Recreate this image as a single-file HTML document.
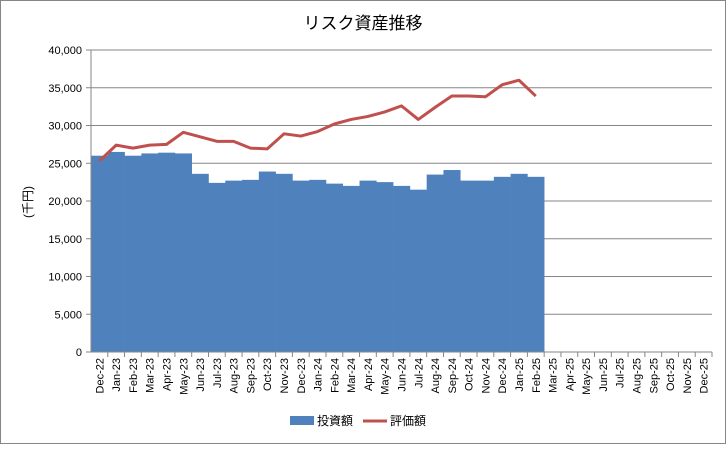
<!DOCTYPE html>
<html><head><meta charset="utf-8"><style>
body{margin:0;background:#fff;font-family:"Liberation Sans","Noto Sans CJK JP",sans-serif}
</style></head><body>
<svg width="726" height="444" xmlns="http://www.w3.org/2000/svg" style="font-family:'Liberation Sans','Noto Sans CJK JP',sans-serif">
<rect x="0.5" y="0.5" width="725" height="443" fill="#fff" stroke="#868686"/>
<text x="363" y="29" text-anchor="middle" font-size="17">リスク資産推移</text>
<g id="grid"></g><g id="bars"></g><g id="line"></g><g id="axes"></g>
<text transform="translate(32,202) rotate(-90)" text-anchor="middle" font-size="12">(千円)</text>
<g>
<rect x="290" y="416" width="24" height="9" fill="#4f81bd"/>
<text x="317" y="425" font-size="12">投資額</text>
<line x1="363" y1="421" x2="387" y2="421" stroke="#c0504d" stroke-width="3"/>
<text x="390" y="425" font-size="12">評価額</text>
</g>
</svg>
<script>
const categories=["Dec-22","Jan-23","Feb-23","Mar-23","Apr-23","May-23","Jun-23","Jul-23","Aug-23","Sep-23","Oct-23","Nov-23","Dec-23","Jan-24","Feb-24","Mar-24","Apr-24","May-24","Jun-24","Jul-24","Aug-24","Sep-24","Oct-24","Nov-24","Dec-24","Jan-25","Feb-25","Mar-25","Apr-25","May-25","Jun-25","Jul-25","Aug-25","Sep-25","Oct-25","Nov-25","Dec-25"];
const investment=[26000,26500,26000,26300,26400,26300,23600,22400,22700,22800,23900,23600,22700,22800,22300,22000,22700,22500,22000,21500,23500,24100,22700,22700,23200,23600,23200];
const valuation=[25300,27400,27000,27400,27500,29100,28500,27900,27900,27000,26900,28900,28600,29200,30200,30800,31200,31800,32600,30800,32400,33900,33900,33800,35400,36000,33900];
const yTicks=[0,5000,10000,15000,20000,25000,30000,35000,40000];
const NS="http://www.w3.org/2000/svg";
const X0=91,X1=712,Y0=352,Y1=50,YMAX=40000;
const bw=(X1-X0)/categories.length;
const y=v=>Y0-(v/YMAX)*(Y0-Y1);
const xc=i=>X0+bw*(i+0.5);
function mk(t,a,p){const e=document.createElementNS(NS,t);for(const k in a)e.setAttribute(k,a[k]);p.appendChild(e);return e;}
const G=document.getElementById('grid'),B=document.getElementById('bars'),L=document.getElementById('line'),A=document.getElementById('axes');
yTicks.forEach(v=>{
 if(v>0){const g=mk('line',{x1:X0,x2:X1,y1:y(v),y2:y(v),stroke:'#868686'},G);
 
 }
 const t=mk('text',{x:X0-9,y:y(v)+4,'text-anchor':'end','font-size':11},A);t.textContent=v.toLocaleString('en-US');
 
 
 mk('line',{x1:X0-5,x2:X0,y1:y(v),y2:y(v),stroke:'#868686'},A);
});
investment.forEach((v,i)=>{
 const r=mk('rect',{x:X0+bw*i,y:y(v),width:bw+0.3,height:Y0-y(v),fill:'#4f81bd'},B);
 
 
});
const p=mk('polyline',{points:valuation.map((v,i)=>xc(i)+','+y(v)).join(' '),fill:'none',stroke:'#c0504d','stroke-width':3,'stroke-linejoin':'round'},L);


mk('line',{x1:X0,x2:X0,y1:Y1,y2:Y0,stroke:'#868686'},A);
mk('line',{x1:X0,x2:X1,y1:Y0,y2:Y0,stroke:'#868686'},A);
categories.forEach((c,i)=>{
 mk('line',{x1:X0+bw*(i+1),x2:X0+bw*(i+1),y1:Y0,y2:Y0+5,stroke:'#868686'},A);
 const t=mk('text',{transform:`translate(${xc(i)+4},${Y0+6}) rotate(-90)`,'text-anchor':'end','font-size':11},A);
 t.textContent=c;
 
 
});
</script>
</body></html>
